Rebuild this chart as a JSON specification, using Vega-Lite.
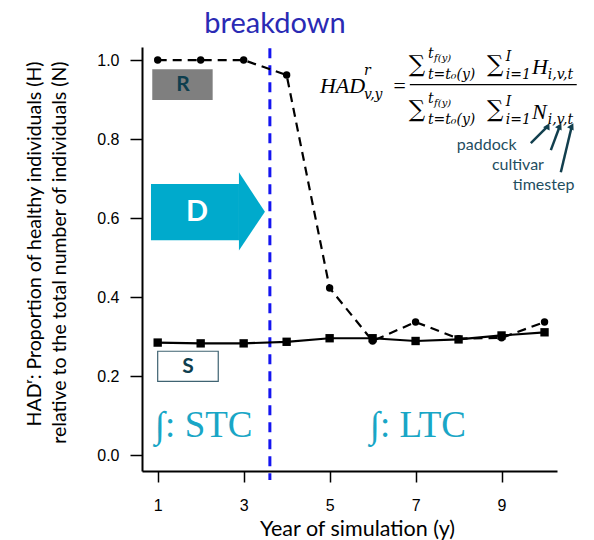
{
  "$schema": "https://vega.github.io/schema/vega-lite/v6.json",
  "width": 415,
  "height": 424,
  "autosize": "none",
  "padding": {"left": 142, "top": 47, "right": 37, "bottom": 69},
  "background": "white",
  "config": {"view": {"stroke": null}, "axis": {"grid": false}},
  "datasets": {
    "series": [
      {"series": "R", "year": 1, "had": 1.0},
      {"series": "R", "year": 2, "had": 1.0},
      {"series": "R", "year": 3, "had": 1.0},
      {"series": "R", "year": 4, "had": 0.962},
      {"series": "R", "year": 5, "had": 0.423},
      {"series": "R", "year": 6, "had": 0.289},
      {"series": "R", "year": 7, "had": 0.337},
      {"series": "R", "year": 8, "had": 0.295},
      {"series": "R", "year": 9, "had": 0.297},
      {"series": "R", "year": 10, "had": 0.337},
      {"series": "S", "year": 1, "had": 0.285},
      {"series": "S", "year": 2, "had": 0.283},
      {"series": "S", "year": 3, "had": 0.283},
      {"series": "S", "year": 4, "had": 0.287},
      {"series": "S", "year": 5, "had": 0.296},
      {"series": "S", "year": 6, "had": 0.296},
      {"series": "S", "year": 7, "had": 0.289},
      {"series": "S", "year": 8, "had": 0.293},
      {"series": "S", "year": 9, "had": 0.303},
      {"series": "S", "year": 10, "had": 0.311}
    ],
    "boxes": [
      {"name": "R", "year": 0.874, "year2": 2.279, "had": 0.977, "had2": 0.899},
      {"name": "S", "year": 1.0, "year2": 2.409, "had": 0.263, "had2": 0.187},
      {"name": "D", "year": 0.844, "year2": 2.891, "had": 0.686, "had2": 0.544}
    ],
    "head": [
      {"year": 2.89, "had": 0.518, "had2": 0.716},
      {"year": 3.495, "had": 0.616, "had2": 0.616}
    ],
    "breakline": [{"year": 3.61, "had": 1.03, "had2": -0.063}],
    "bars": [
      {"year": 6.866, "year2": 10.749, "had": 0.938}
    ],
    "arrows": [
      {"arrow": "paddock", "year": 9.681, "had": 0.79},
      {"arrow": "paddock", "year": 10.077, "had": 0.833},
      {"arrow": "cultivar", "year": 10.147, "had": 0.772},
      {"arrow": "cultivar", "year": 10.356, "had": 0.833},
      {"arrow": "timestep", "year": 10.379, "had": 0.716},
      {"arrow": "timestep", "year": 10.635, "had": 0.833}
    ],
    "tips": [
      {"year": 10.077, "had": 0.833},
      {"year": 10.356, "had": 0.833},
      {"year": 10.635, "had": 0.833}
    ],
    "notes": [
      {"kind": "mathBig", "label": "HAD", "year": 4.774, "had": 0.9165},
      {"kind": "mathBig", "label": "=", "year": 6.449, "had": 0.9165},
      {"kind": "mathBig", "label": "H", "year": 9.706, "had": 0.9646},
      {"kind": "mathBig", "label": "N", "year": 9.706, "had": 0.8506},
      {"kind": "sigma", "label": "∑", "year": 6.84, "had": 0.969},
      {"kind": "sigma", "label": "∑", "year": 8.66, "had": 0.969},
      {"kind": "sigma", "label": "∑", "year": 6.84, "had": 0.855},
      {"kind": "sigma", "label": "∑", "year": 8.66, "had": 0.855},
      {"kind": "mathSmall", "label": "r", "year": 5.798, "had": 0.962},
      {"kind": "mathSmall", "label": "v,y", "year": 5.798, "had": 0.901},
      {"kind": "mathSmall", "label": "t", "year": 7.286, "had": 1.005},
      {"kind": "mathSmall", "label": "t", "year": 7.286, "had": 0.891},
      {"kind": "mathSmall", "label": "t=t₀(y)", "year": 7.286, "had": 0.952},
      {"kind": "mathSmall", "label": "t=t₀(y)", "year": 7.286, "had": 0.838},
      {"kind": "mathSmall", "label": "I", "year": 9.1, "had": 0.997},
      {"kind": "mathSmall", "label": "I", "year": 9.1, "had": 0.8835},
      {"kind": "mathSmall", "label": "i=1", "year": 9.1, "had": 0.952},
      {"kind": "mathSmall", "label": "i=1", "year": 9.1, "had": 0.838},
      {"kind": "mathSmall", "label": "i,v,t", "year": 10.077, "had": 0.952},
      {"kind": "mathSmall", "label": "i,v,t", "year": 10.077, "had": 0.838},
      {"kind": "mathTiny", "label": "f(y)", "year": 7.43, "had": 0.997},
      {"kind": "mathTiny", "label": "f(y)", "year": 7.43, "had": 0.8835},
      {"kind": "index", "label": "paddock", "year": 7.96, "had": 0.772},
      {"kind": "index", "label": "cultivar", "year": 8.775, "had": 0.7215},
      {"kind": "index", "label": "timestep", "year": 9.263, "had": 0.671},
      {"kind": "region", "label": "∫: STC", "year": 0.937, "had": 0.0456},
      {"kind": "region", "label": "∫: LTC", "year": 5.937, "had": 0.0456},
      {"kind": "breakdown", "label": "breakdown", "year": 3.728, "had": 1.068},
      {"kind": "boxletter", "label": "R", "year": 1.59, "had": 0.937},
      {"kind": "boxletter", "label": "S", "year": 1.705, "had": 0.223},
      {"kind": "dletter", "label": "D", "year": 1.916, "had": 0.615}
    ]
  },
  "encoding": {
    "x": {
      "field": "year",
      "type": "quantitative",
      "scale": {"domain": [0.635, 10.29], "nice": false, "zero": false},
      "axis": {
        "values": [1, 3, 5, 7, 9],
        "title": "Year of simulation (y)",
        "grid": false,
        "domainColor": "black",
        "domainWidth": 2,
        "tickColor": "black",
        "tickWidth": 1.5,
        "tickSize": 11,
        "labelFont": "Liberation Sans",
        "labelFontSize": 16,
        "labelColor": "black",
        "labelPadding": 15,
        "titleFont": "Lato",
        "titleFontSize": 21.5,
        "titleFontWeight": "normal",
        "titleColor": "black",
        "titleX": 215,
        "titleY": 64,
        "titleBaseline": "alphabetic"
      }
    },
    "y": {
      "field": "had",
      "type": "quantitative",
      "scale": {"domain": [-0.04, 1.033], "nice": false, "zero": false},
      "axis": {
        "values": [0, 0.2, 0.4, 0.6, 0.8, 1.0],
        "format": ".1f",
        "title": ["HADʳ: Proportion of healthy individuals (H)", "relative to the total number of individuals (N)"],
        "grid": false,
        "domainColor": "black",
        "domainWidth": 2,
        "tickColor": "black",
        "tickWidth": 1.5,
        "tickSize": 12,
        "labelFont": "Liberation Sans",
        "labelFontSize": 16,
        "labelColor": "black",
        "labelPadding": 11,
        "titleFont": "Lato",
        "titleFontSize": 19.5,
        "titleFontWeight": "normal",
        "titleColor": "black",
        "titleLineHeight": 25,
        "titleAlign": "right",
        "titleAnchor": "end",
        "titleBaseline": "bottom",
        "titleX": -98,
        "titleY": 14
      }
    }
  },
  "layer": [
    {
      "data": {"name": "boxes"},
      "transform": [{"filter": "datum.name === 'R'"}],
      "mark": {"type": "rect", "fill": "#7f7f7f"},
      "encoding": {"x2": {"field": "year2"}, "y2": {"field": "had2"}}
    },
    {
      "data": {"name": "boxes"},
      "transform": [{"filter": "datum.name === 'S'"}],
      "mark": {"type": "rect", "fill": "white", "stroke": "#3f6372", "strokeWidth": 1.2},
      "encoding": {"x2": {"field": "year2"}, "y2": {"field": "had2"}}
    },
    {
      "data": {"name": "boxes"},
      "transform": [{"filter": "datum.name === 'D'"}],
      "mark": {"type": "rect", "fill": "#00aacc"},
      "encoding": {"x2": {"field": "year2"}, "y2": {"field": "had2"}}
    },
    {
      "data": {"name": "head"},
      "mark": {"type": "area", "fill": "#00aacc", "interpolate": "linear"},
      "encoding": {"y2": {"field": "had2"}}
    },
    {
      "data": {"name": "breakline"},
      "mark": {"type": "rule", "color": "#1515f0", "strokeWidth": 3, "strokeDash": [10, 7]},
      "encoding": {"y2": {"field": "had2"}}
    },
    {
      "data": {"name": "series"},
      "transform": [{"filter": "datum.series === 'R'"}],
      "mark": {"type": "line", "color": "black", "strokeWidth": 2.2, "strokeDash": [9, 6],
               "point": {"filled": true, "color": "black", "size": 55, "shape": "circle"}},
      "encoding": {}
    },
    {
      "data": {"name": "series"},
      "transform": [{"filter": "datum.series === 'S'"}],
      "mark": {"type": "line", "color": "black", "strokeWidth": 2.2,
               "point": {"filled": true, "color": "black", "size": 70, "shape": "square"}},
      "encoding": {}
    },
    {
      "data": {"name": "bars"},
      "mark": {"type": "rule", "color": "black", "strokeWidth": 1.3},
      "encoding": {"x2": {"field": "year2"}}
    },
    {
      "data": {"name": "arrows"},
      "mark": {"type": "line", "color": "#123f4e", "strokeWidth": 2.5},
      "encoding": {"detail": {"field": "arrow"}}
    },
    {
      "data": {"name": "tips"},
      "mark": {"type": "point", "shape": "triangle-up", "filled": true, "color": "#123f4e", "size": 55, "angle": 28, "opacity": 1},
      "encoding": {}
    },
    {
      "data": {"name": "notes"},
      "transform": [{"filter": "datum.kind === 'mathBig'"}],
      "mark": {"type": "text", "font": "Liberation Serif", "fontStyle": "italic", "fontSize": 22, "align": "left", "baseline": "alphabetic", "color": "black"},
      "encoding": {"text": {"field": "label"}}
    },
    {
      "data": {"name": "notes"},
      "transform": [{"filter": "datum.kind === 'sigma'"}],
      "mark": {"type": "text", "font": "DejaVu Serif", "fontSize": 23, "align": "left", "baseline": "alphabetic", "color": "black"},
      "encoding": {"text": {"field": "label"}}
    },
    {
      "data": {"name": "notes"},
      "transform": [{"filter": "datum.kind === 'mathSmall'"}],
      "mark": {"type": "text", "font": "DejaVu Serif", "fontStyle": "italic", "fontSize": 14, "align": "left", "baseline": "alphabetic", "color": "black"},
      "encoding": {"text": {"field": "label"}}
    },
    {
      "data": {"name": "notes"},
      "transform": [{"filter": "datum.kind === 'mathTiny'"}],
      "mark": {"type": "text", "font": "DejaVu Serif", "fontStyle": "italic", "fontSize": 10, "align": "left", "baseline": "alphabetic", "color": "black"},
      "encoding": {"text": {"field": "label"}}
    },
    {
      "data": {"name": "notes"},
      "transform": [{"filter": "datum.kind === 'index'"}],
      "mark": {"type": "text", "font": "Lato", "fontSize": 16, "align": "left", "baseline": "alphabetic", "color": "#1f4e5f"},
      "encoding": {"text": {"field": "label"}}
    },
    {
      "data": {"name": "notes"},
      "transform": [{"filter": "datum.kind === 'region'"}],
      "mark": {"type": "text", "font": "Liberation Serif", "fontSize": 37, "align": "left", "baseline": "alphabetic", "color": "#19a6c6"},
      "encoding": {"text": {"field": "label"}}
    },
    {
      "data": {"name": "notes"},
      "transform": [{"filter": "datum.kind === 'breakdown'"}],
      "mark": {"type": "text", "font": "Lato", "fontSize": 29, "align": "center", "baseline": "alphabetic", "color": "#2a2ab4"},
      "encoding": {"text": {"field": "label"}}
    },
    {
      "data": {"name": "notes"},
      "transform": [{"filter": "datum.kind === 'boxletter'"}],
      "mark": {"type": "text", "font": "Lato", "fontWeight": "bold", "fontSize": 21, "align": "center", "baseline": "middle", "color": "#0e3e4e"},
      "encoding": {"text": {"field": "label"}}
    },
    {
      "data": {"name": "notes"},
      "transform": [{"filter": "datum.kind === 'dletter'"}],
      "mark": {"type": "text", "font": "Lato", "fontWeight": "bold", "fontSize": 29, "align": "center", "baseline": "middle", "color": "white"},
      "encoding": {"text": {"field": "label"}}
    }
  ]
}
